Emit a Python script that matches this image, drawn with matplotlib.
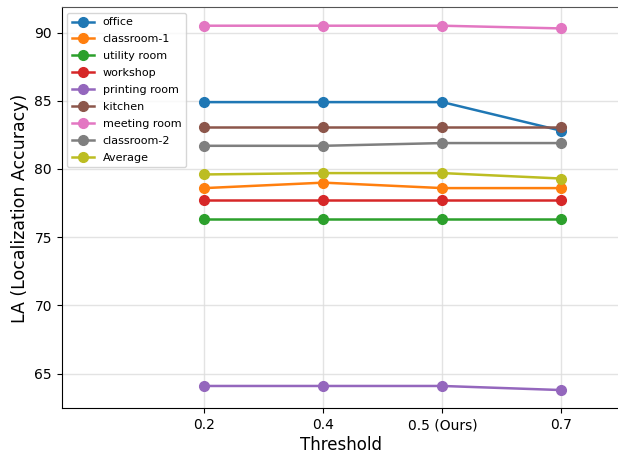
import matplotlib
matplotlib.use("Agg")
import matplotlib.pyplot as plt

thresholds = ["0.2", "0.4", "0.5 (Ours)", "0.7"]
office = [84.9, 84.9, 84.9, 82.8]
classroom_1 = [78.6, 79.0, 78.6, 78.6]
utility_room = [76.3, 76.3, 76.3, 76.3]
workshop = [77.7, 77.7, 77.7, 77.7]
printing_room = [64.1, 64.1, 64.1, 63.8]
kitchen = [83.1, 83.1, 83.1, 83.1]
meeting_room = [90.5, 90.5, 90.5, 90.3]
classroom_2 = [81.7, 81.7, 81.9, 81.9]
average = [79.6, 79.7, 79.7, 79.3]

series = [
    ("office", office),
    ("classroom-1", classroom_1),
    ("utility room", utility_room),
    ("workshop", workshop),
    ("printing room", printing_room),
    ("kitchen", kitchen),
    ("meeting room", meeting_room),
    ("classroom-2", classroom_2),
    ("Average", average),
]

fig = plt.figure(figsize=(6.18, 4.54), dpi=100)
ax = fig.add_axes([0.0998, 0.1007, 0.905, 0.8828])
x = list(range(len(thresholds)))
for name, vals in series:
    ax.plot(x, vals, marker="o", markersize=7, linewidth=1.8, label=name)

ax.set_xticks(x)
ax.set_xticklabels(thresholds, fontsize=10)
ax.tick_params(axis="y", labelsize=10)
ax.set_xlim(-1.2, 3.5)
ax.set_xlabel("Threshold", fontsize=12, labelpad=3)
ax.set_ylabel("LA (Localization Accuracy)", fontsize=12.5)
ax.grid(True, color="#dddddd", linewidth=1, alpha=0.8)
ax.set_axisbelow(True)
ax.spines["top"].set_color("#555555")
ax.spines["right"].set_visible(False)
ax.legend(loc="upper left", fontsize=8, labelspacing=0.62)

fig.savefig("out.png", dpi=100)
